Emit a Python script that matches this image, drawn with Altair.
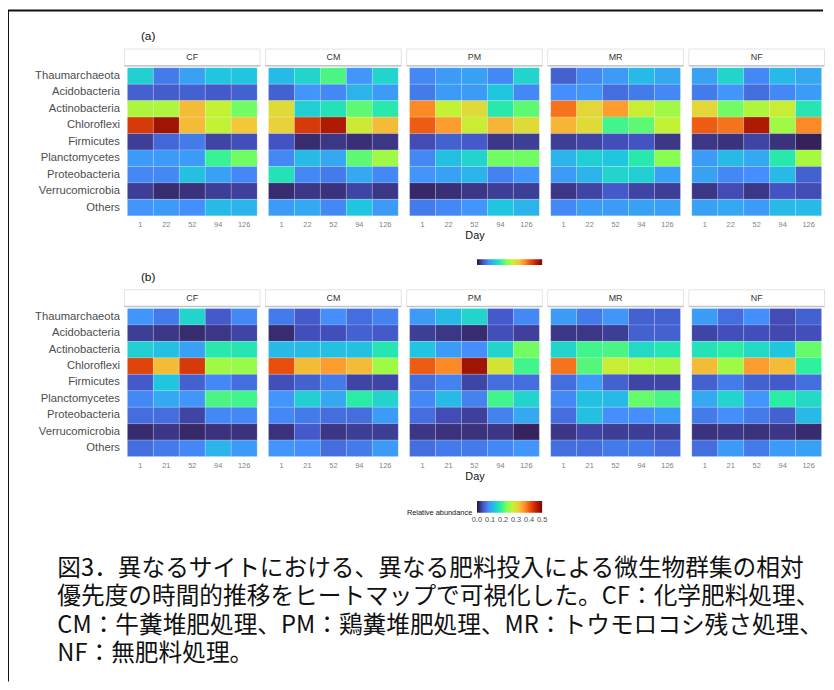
import altair as alt
import pandas as pd
import numpy as np

TAXA = ["Thaumarchaeota", "Acidobacteria", "Actinobacteria", "Chloroflexi", "Firmicutes",
        "Planctomycetes", "Proteobacteria", "Verrucomicrobia", "Others"]
TREATMENTS = ["CF", "CM", "PM", "MR", "NF"]
DAYS_A = ["1", "22", "52", "94", "126"]
DAYS_B = ["1", "21", "52", "94", "126"]

# Panel (a) relative abundances, rows = TAXA, columns = DAYS_A
A_CF = [[0.145, 0.075, 0.105, 0.135, 0.135],
        [0.055, 0.052, 0.055, 0.050, 0.055],
        [0.260, 0.260, 0.330, 0.275, 0.220],
        [0.430, 0.475, 0.330, 0.275, 0.320],
        [0.030, 0.060, 0.075, 0.035, 0.042],
        [0.100, 0.100, 0.100, 0.190, 0.220],
        [0.085, 0.085, 0.130, 0.105, 0.085],
        [0.030, 0.018, 0.022, 0.030, 0.032],
        [0.095, 0.100, 0.090, 0.125, 0.120]]
A_CM = [[0.125, 0.150, 0.200, 0.095, 0.150],
        [0.055, 0.095, 0.085, 0.120, 0.100],
        [0.300, 0.145, 0.165, 0.210, 0.175],
        [0.310, 0.430, 0.465, 0.285, 0.330],
        [0.045, 0.018, 0.025, 0.020, 0.025],
        [0.085, 0.125, 0.110, 0.210, 0.250],
        [0.165, 0.085, 0.075, 0.110, 0.085],
        [0.018, 0.025, 0.022, 0.035, 0.025],
        [0.100, 0.110, 0.085, 0.135, 0.100]]
A_PM = [[0.085, 0.100, 0.105, 0.085, 0.150],
        [0.075, 0.100, 0.100, 0.135, 0.085],
        [0.370, 0.275, 0.300, 0.175, 0.210],
        [0.400, 0.355, 0.280, 0.335, 0.300],
        [0.040, 0.055, 0.050, 0.025, 0.030],
        [0.085, 0.130, 0.150, 0.220, 0.220],
        [0.095, 0.105, 0.120, 0.080, 0.095],
        [0.015, 0.020, 0.025, 0.030, 0.030],
        [0.075, 0.085, 0.095, 0.135, 0.120]]
A_MR = [[0.055, 0.085, 0.100, 0.125, 0.110],
        [0.090, 0.095, 0.065, 0.075, 0.085],
        [0.385, 0.305, 0.355, 0.280, 0.250],
        [0.335, 0.300, 0.195, 0.210, 0.275],
        [0.030, 0.035, 0.042, 0.045, 0.025],
        [0.120, 0.145, 0.135, 0.175, 0.235],
        [0.100, 0.120, 0.150, 0.145, 0.105],
        [0.025, 0.035, 0.050, 0.035, 0.030],
        [0.085, 0.100, 0.100, 0.105, 0.105]]
A_NF = [[0.105, 0.150, 0.085, 0.125, 0.110],
        [0.075, 0.095, 0.065, 0.085, 0.100],
        [0.305, 0.220, 0.260, 0.280, 0.170],
        [0.400, 0.385, 0.465, 0.250, 0.370],
        [0.025, 0.022, 0.035, 0.022, 0.010],
        [0.100, 0.125, 0.110, 0.175, 0.255],
        [0.105, 0.085, 0.090, 0.125, 0.055],
        [0.025, 0.040, 0.025, 0.045, 0.040],
        [0.105, 0.110, 0.100, 0.125, 0.125]]

# Panel (b) relative abundances, rows = TAXA, columns = DAYS_B
B_CF = [[0.095, 0.075, 0.150, 0.050, 0.085],
        [0.030, 0.025, 0.018, 0.025, 0.035],
        [0.145, 0.130, 0.105, 0.175, 0.170],
        [0.420, 0.330, 0.430, 0.250, 0.245],
        [0.050, 0.135, 0.055, 0.085, 0.065],
        [0.085, 0.110, 0.095, 0.200, 0.195],
        [0.065, 0.065, 0.035, 0.085, 0.085],
        [0.018, 0.025, 0.015, 0.022, 0.022],
        [0.065, 0.075, 0.085, 0.120, 0.100]]
B_CM = [[0.075, 0.050, 0.090, 0.065, 0.080],
        [0.018, 0.042, 0.042, 0.055, 0.050],
        [0.125, 0.125, 0.130, 0.130, 0.170],
        [0.410, 0.330, 0.355, 0.330, 0.250],
        [0.042, 0.055, 0.075, 0.035, 0.035],
        [0.095, 0.145, 0.110, 0.180, 0.150],
        [0.085, 0.075, 0.065, 0.065, 0.100],
        [0.022, 0.050, 0.025, 0.030, 0.030],
        [0.095, 0.090, 0.065, 0.075, 0.100]]
B_PM = [[0.100, 0.125, 0.150, 0.050, 0.085],
        [0.030, 0.025, 0.018, 0.042, 0.032],
        [0.135, 0.100, 0.090, 0.150, 0.220],
        [0.400, 0.370, 0.475, 0.290, 0.195],
        [0.065, 0.080, 0.035, 0.065, 0.065],
        [0.085, 0.125, 0.080, 0.195, 0.150],
        [0.065, 0.040, 0.032, 0.080, 0.110],
        [0.025, 0.022, 0.022, 0.025, 0.012],
        [0.065, 0.075, 0.075, 0.085, 0.095]]
B_MR = [[0.100, 0.075, 0.095, 0.055, 0.055],
        [0.025, 0.025, 0.030, 0.055, 0.055],
        [0.150, 0.195, 0.200, 0.155, 0.170],
        [0.385, 0.205, 0.280, 0.265, 0.260],
        [0.065, 0.100, 0.055, 0.035, 0.035],
        [0.085, 0.130, 0.125, 0.215, 0.200],
        [0.065, 0.130, 0.090, 0.090, 0.100],
        [0.025, 0.035, 0.030, 0.030, 0.030],
        [0.065, 0.065, 0.075, 0.075, 0.065]]
B_NF = [[0.100, 0.065, 0.090, 0.040, 0.055],
        [0.035, 0.042, 0.042, 0.038, 0.042],
        [0.165, 0.180, 0.155, 0.135, 0.215],
        [0.330, 0.250, 0.355, 0.330, 0.185],
        [0.055, 0.075, 0.055, 0.050, 0.065],
        [0.110, 0.150, 0.095, 0.180, 0.155],
        [0.075, 0.090, 0.075, 0.055, 0.125],
        [0.022, 0.025, 0.022, 0.025, 0.018],
        [0.065, 0.100, 0.075, 0.100, 0.105]]

LEGEND_TICKS = [0.0, 0.1, 0.2, 0.3, 0.4, 0.5]
LEGEND_TITLE = "Relative abundance"

CAPTION = [
    "図3．異なるサイトにおける、異なる肥料投入による微生物群集の相対",
    "優先度の時間的推移をヒートマップで可視化した。CF：化学肥料処理、",
    "CM：牛糞堆肥処理、PM：鶏糞堆肥処理、MR：トウモロコシ残さ処理、",
    "NF：無肥料処理。",
]

# turbo palette (viridis option "H") stops, domain 0 - 0.5
TURBO = ["#30123b", "#4454c4", "#4490fe", "#1fc8de", "#29efa2", "#7dff56",
         "#c1f334", "#f1ca3a", "#fe922a", "#ea4f0d", "#be2102", "#7a0403"]
TURBO_DOMAIN = [float(v) for v in np.linspace(0, 0.5, len(TURBO))]
COLOR_SCALE = alt.Scale(domain=TURBO_DOMAIN, range=TURBO, clamp=True, interpolate="rgb")
GRADIENT = alt.LinearGradient(
    gradient="linear", x1=0, x2=1, y1=0, y2=0,
    stops=[alt.GradientStop(offset=i / (len(TURBO) - 1), color=c) for i, c in enumerate(TURBO)])

W, H = 131.5, 150
FONT = "Liberation Sans"
# colour bar scale: PM panel offsets of the bar ends
BAR_SCALE = alt.Scale(domain=[0, 0.5], range=[68.3, 134.3])


def colorbar(top, thickness, with_text):
    bdf = pd.DataFrame({"lo": [LEGEND_TICKS[0]], "hi": [LEGEND_TICKS[-1]], "title": [LEGEND_TITLE]})
    bar = alt.Chart(bdf).mark_rect(color=GRADIENT).encode(
        x=alt.X("lo:Q", scale=BAR_SCALE, axis=None), x2="hi:Q",
        y=alt.value(top), y2=alt.value(top + thickness))
    out = [bar]
    if with_text:
        ldf = pd.DataFrame({"v": LEGEND_TICKS, "lab": [f"{v:.1f}" for v in LEGEND_TICKS]})
        labs = alt.Chart(ldf).mark_text(fontSize=7.5, baseline="middle", color="#4d4d4d", font=FONT).encode(
            x=alt.X("v:Q", scale=BAR_SCALE, axis=None), y=alt.value(top + thickness + 7.5), text="lab:N")
        ttl = alt.Chart(bdf).mark_text(fontSize=7.5, align="right", baseline="middle",
                                       color="#111111", font=FONT).encode(
            x=alt.value(63.5), y=alt.value(top + thickness + 0.5), text="title:N")
        out += [labs, ttl]
    return out


def make_panel(values, treatment, days, idx, tag, bar_layers):
    rows = [{"Taxon": t, "Day": d, "Abundance": v}
            for t, row in zip(TAXA, values) for d, v in zip(days, row)]
    df = pd.DataFrame(rows)
    xaxis = alt.Axis(labelAngle=0, ticks=False, domain=False, labelFontSize=7.5,
                     labelColor="#808080", labelPadding=5, labelFont=FONT,
                     title="Day" if idx == 2 else None, titleFontSize=11,
                     titleFontWeight="normal", titleColor="#111111", titlePadding=2,
                     titleFont=FONT)
    if idx == 0:
        yaxis = alt.Axis(title=None, ticks=False, domain=False, labelFontSize=11.4,
                         labelColor="#4d4d4d", labelPadding=8, labelFont=FONT)
    else:
        yaxis = None
    heat = alt.Chart(df).mark_rect(stroke="white", strokeWidth=0.5, strokeOpacity=0.35).encode(
        x=alt.X("Day:O", sort=days, scale=alt.Scale(paddingInner=0, paddingOuter=0), axis=xaxis),
        y=alt.Y("Taxon:N", sort=TAXA, scale=alt.Scale(paddingInner=0, paddingOuter=0), axis=yaxis),
        color=alt.Color("Abundance:Q", scale=COLOR_SCALE, legend=None),
    )
    sdf = pd.DataFrame({"label": [treatment]})
    box = alt.Chart(sdf).mark_rect(fill="white", stroke="#e3e3e3", strokeWidth=1).encode(
        x=alt.value(-3), x2=alt.value(W + 3), y=alt.value(-19), y2=alt.value(-2))
    line = alt.Chart(sdf).mark_rule(color="#c4c4c4", strokeWidth=1.5).encode(
        x=alt.value(-3), x2=alt.value(W + 3), y=alt.value(-2))
    txt = alt.Chart(sdf).mark_text(fontSize=9, color="#333333", font=FONT).encode(
        text="label:N", x=alt.value(W / 2), y=alt.value(-10.5))
    layers = [heat, box, line, txt]
    if idx == 0:
        tdf = pd.DataFrame({"label": [tag]})
        layers.append(alt.Chart(tdf).mark_text(fontSize=12, color="#111111", font=FONT).encode(
            text="label:N", x=alt.value(21), y=alt.value(-32)))
    if idx == 2:
        layers += bar_layers
    return layers


A_VALUES = [A_CF, A_CM, A_PM, A_MR, A_NF]
B_VALUES = [B_CF, B_CM, B_PM, B_MR, B_NF]

# frame lines (top and left)
fdf = pd.DataFrame({"k": [0]})
frame_top = alt.Chart(fdf).mark_rule(color="#111111", strokeWidth=2).encode(
    x=alt.value(-121), x2=alt.value(705), y=alt.value(-58))
frame_left = alt.Chart(fdf).mark_rule(color="#111111", strokeWidth=2).encode(
    x=alt.value(-121), y=alt.value(-58), y2=alt.value(622))

panels_a = []
for i, (v, t) in enumerate(zip(A_VALUES, TREATMENTS)):
    layers = make_panel(v, t, DAYS_A, i, "(a)", colorbar(194, 6, False))
    if i == 0:
        layers += [frame_top, frame_left]
    p = alt.layer(*layers).properties(width=W, height=H)
    if i == 2:
        p = p.resolve_scale(x="independent")
    panels_a.append(p)

panels_b = []
for i, (v, t) in enumerate(zip(B_VALUES, TREATMENTS)):
    layers = make_panel(v, t, DAYS_B, i, "(b)", colorbar(195, 12, True))
    p = alt.layer(*layers).properties(width=W, height=H)
    if i == 2:
        p = p.resolve_scale(x="independent")
    panels_b.append(p)

row_a = alt.hconcat(*panels_a, spacing=11, bounds="flush")
row_b = alt.hconcat(*panels_b, spacing=11, bounds="flush")

cap_df = pd.DataFrame({"i": list(range(len(CAPTION))), "line": CAPTION})
caption = alt.Chart(cap_df).mark_text(align="left", baseline="middle", fontSize=24,
                                      font="Noto Sans CJK JP", color="#111111").encode(
    x=alt.value(-71),
    y=alt.Y("i:O", axis=None, scale=alt.Scale(paddingInner=0, paddingOuter=0)),
    text="line:N",
).properties(width=700, height=115.2)

# with flush bounds a nested row counts with no height, so its height goes into the gap
lower = alt.vconcat(row_b, caption, spacing=H + 99.5, bounds="flush")
chart = alt.vconcat(row_a, lower, spacing=H + 94, bounds="flush").properties(
    padding={"left": -2, "top": -4, "right": 0, "bottom": 0}
).configure_view(stroke="transparent")

chart.save("out.html", embed_options={"renderer": "svg", "actions": False})
